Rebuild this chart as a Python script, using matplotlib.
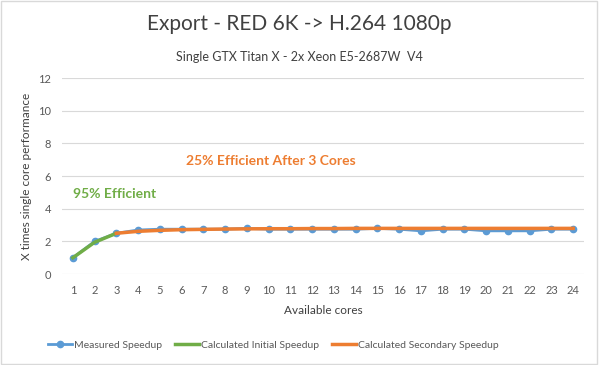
import matplotlib.pyplot as plt

plt.rcParams['font.family'] = ['Lato', 'DejaVu Sans']

# --------------- data --------------- #
cores = list(range(1, 25))
measured = [1.0, 2.0, 2.5, 2.7, 2.75, 2.75, 2.75, 2.75, 2.8, 2.75, 2.75, 2.75,
            2.75, 2.75, 2.8, 2.75, 2.65, 2.75, 2.75, 2.65, 2.65, 2.65, 2.75, 2.75]
initial_cores = [1, 2, 3]
initial = [1.0, 1.95, 2.5]
secondary_cores = list(range(3, 25))
secondary = [2.5, 2.62, 2.68, 2.72, 2.74, 2.76, 2.77, 2.78, 2.78, 2.79, 2.79, 2.8,
             2.8, 2.8, 2.8, 2.8, 2.8, 2.8, 2.8, 2.8, 2.8, 2.8]

blue = '#5B9BD5'
green = '#70AD47'
orange = '#ED7D31'
txt = '#595959'

fig = plt.figure(figsize=(5.99, 3.65), dpi=100)
ax = fig.add_axes([0.1035, 0.249, 0.8715, 0.537])

ax.plot(cores, measured, color=blue, lw=2, marker='o', ms=4.5, label='Measured Speedup', zorder=2)
ax.plot(initial_cores, initial, color=green, lw=2.5, label='Calculated Initial Speedup', zorder=3)
ax.plot(secondary_cores, secondary, color=orange, lw=2.5, label='Calculated Secondary Speedup', zorder=3)

ax.set_xlim(0.5, 24.5)
ax.set_ylim(0, 12)
ax.set_xticks(cores)
ax.set_yticks(range(0, 13, 2))
ax.tick_params(length=0, labelsize=8, colors=txt, pad=8)
ax.grid(axis='y', color='#D9D9D9', lw=0.8)
ax.set_axisbelow(True)
for s in ax.spines.values():
    s.set_visible(False)

ax.set_xlabel('Available cores', fontsize=8.5, color='#404040', labelpad=6)
ax.set_ylabel('X times single core performance', fontsize=8.5, color='#404040', labelpad=4)

ax.text(1.0, 4.9, '95% Efficient', color=green, fontsize=10, fontweight='bold', va='center')
ax.text(6.2, 6.95, '25% Efficient After 3 Cores', color=orange, fontsize=10, fontweight='bold', va='center')

fig.text(0.5, 0.934, 'Export - RED 6K -> H.264 1080p', ha='center', va='center', fontsize=15, color='#404040')
fig.text(0.5, 0.844, 'Single GTX Titan X - 2x Xeon E5-2687W  V4', ha='center', va='center', fontsize=9, color='#404040')

leg = fig.legend(loc='center left', bbox_to_anchor=(0.065, 0.055), ncol=3, frameon=False,
                 fontsize=7.5, handlelength=2.3, columnspacing=1.2, handletextpad=0.2)
for t in leg.get_texts():
    t.set_color(txt)

fig.patches.append(plt.Rectangle((0.002, 0.003), 0.995, 0.993, transform=fig.transFigure,
                                 fill=False, edgecolor='#D9D9D9', lw=1))

plt.savefig('out.png', dpi=100)
